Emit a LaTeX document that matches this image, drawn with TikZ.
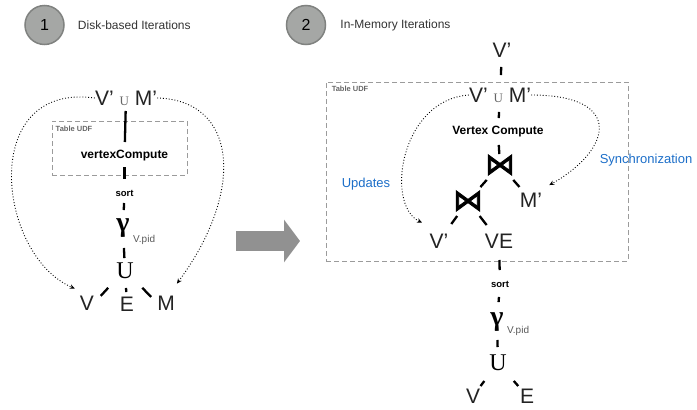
\documentclass[tikz,border=0pt]{standalone}
\usepackage{fontspec}
\setmainfont{Liberation Sans}
\newfontfamily\serifgl{Liberation Serif}
\newfontfamily\joinfont[FakeBold=2.5]{DejaVu Sans}
\usetikzlibrary{positioning, arrows.meta}
\definecolor{stepfill}{RGB}{165,167,165}
\definecolor{stepline}{RGB}{128,130,128}
\definecolor{udfgray}{RGB}{155,155,155}
\definecolor{notecolor}{RGB}{28,110,200}
\definecolor{arrowgray}{RGB}{145,145,145}
\definecolor{reltext}{RGB}{35,35,35}

\begin{document}
\begin{tikzpicture}[
    x=1pt, y=-1pt,
    rel/.style={inner sep=0pt, font=\fontsize{21}{21}\selectfont, text=reltext},
    opname/.style={inner sep=0pt, font=\fontsize{12}{12}\selectfont\bfseries},
    sortop/.style={inner sep=0pt, font=\fontsize{9.5}{10}\selectfont\bfseries},
    grp/.style={inner sep=0pt, font=\serifgl\bfseries\fontsize{28}{28}\selectfont},
    uni/.style={inner sep=0pt, font=\serifgl\fontsize{24}{24}\selectfont},
    joinop/.style={inner sep=0pt, font=\joinfont\fontsize{30}{30}\selectfont},
    subtxt/.style={inner sep=0pt, anchor=west, font=\fontsize{10}{10}\selectfont, text=black!65},
    udfbox/.style={draw=udfgray, dash pattern=on 5pt off 3pt, line width=0.9pt, inner sep=0pt},
    udflabel/.style={inner sep=0pt, font=\fontsize{7.5}{8}\selectfont\bfseries, text=black!60},
    note/.style={inner sep=0pt, font=\fontsize{13}{13}\selectfont, text=notecolor},
    stepnum/.style={circle, draw=stepline, line width=1.5pt, fill=stepfill, minimum size=39pt, inner sep=0pt, font=\fontsize{16}{16}\selectfont},
    steptitle/.style={inner sep=0pt, font=\fontsize{12}{12}\selectfont, text=black!80},
    link/.style={line width=2.3pt},
    flow/.style={dotted, line width=0.9pt, -{Stealth[length=5pt, width=4.5pt]}},
    bigarrow/.style={draw=arrowgray, line width=20pt, -{Triangle[length=16pt, width=42pt]}},
]
\useasboundingbox (0,0) rectangle (697,410);

% ---- headers ----
\node[stepnum] (step1) at (44.5,25) {1};
\node[steptitle, right=13pt of step1] (title1) {Disk-based Iterations};
\node[stepnum] (step2) at (306,25) {2};
\node[steptitle, right=14pt of step2] (title2) {In-Memory Iterations};

% ---- disk-based plan ----
\node[udfbox, minimum width=135pt, minimum height=54pt] (udf1) at (119.5,148) {};
\node[udflabel, below right=5pt and 4pt of udf1.north west] {Table UDF};

\node[rel] (vm1) at (126,98) {V’ {\serifgl\fontsize{13}{13}\selectfont\color{black!60}U} M’};
\node[opname] (vc1) at (124.5,156) {vertexCompute};
\node[sortop] (sort1) at (124.5,193) {sort};
\node[grp] (g1) at (123,228) {γ};
\node[subtxt] at (133,240) {V.pid};
\node[uni] (u1) at (125,271) {U};
\node[rel] (v1) at (87,303) {V};
\node[rel] (e1) at (127,304) {E};
\node[rel] (m1) at (166,303) {M};

\draw[link, shorten <=13pt, shorten >=14pt] (vm1.center) -- (vc1.center);
\draw[link, shorten <=11pt, shorten >=14pt] (vc1.center) -- (sort1.center);
\draw[link, shorten <=10pt, shorten >=18pt] (sort1.center) -- (g1.center);
\draw[link, shorten <=20pt, shorten >=13pt] (g1.center) -- (u1.center);
\draw[link, shorten <=11.7pt, shorten >=9.7pt] (u1.south west) -- (v1.east);
\draw[link, shorten <=17pt, shorten >=12pt] (u1.center) -- (e1.center);
\draw[link, shorten <=12pt, shorten >=8.5pt] (u1.south east) -- (m1.west);

\draw[flow] (vm1.west) .. controls (-22,82) and (-3,255) .. ([xshift=-5pt, yshift=7pt]v1.north west);
\draw[flow] (vm1.east) .. controls (237,100) and (246,190) .. ([xshift=2pt, yshift=12pt]m1.north east);

% ---- arrow between plans ----
\coordinate (arrowstart) at (236,241);
\coordinate (arrowend) at (300,241);
\draw[bigarrow] (arrowstart) -- (arrowend);

% ---- in-memory plan ----
\node[udfbox, minimum width=302pt, minimum height=179pt] (udf2) at (477,171.5) {};
\node[udflabel, below right=4pt and 6pt of udf2.north west] {Table UDF};

\node[rel] (vtop) at (502,50) {V’};
\node[rel] (vm2) at (500,95) {V’ {\serifgl\fontsize{13}{13}\selectfont\color{black!60}U} M’};
\node[opname] (vc2) at (498,132) {Vertex Compute};
\node[joinop] (j1) at (500,165) {⋈};
\node[joinop] (j2) at (468,201) {⋈};
\node[rel] (m2) at (531,200) {M’};
\node[rel] (v2) at (439,241) {V’};
\node[rel] (ve2) at (499,241) {VE};
\node[note] (upd) at (366,184) {Updates};
\node[note] (sync) at (646,160) {Synchronization};

\node[sortop] (sort2) at (500,284) {sort};
\node[grp] (g2) at (497,322) {γ};
\node[subtxt] at (507,331) {V.pid};
\node[uni] (u2) at (498,363) {U};
\node[rel] (v3) at (473,396) {V};
\node[rel] (e3) at (527,396) {E};

\draw[link, shorten <=17pt, shorten >=20pt] (vtop.center) -- (vm2.center);
\draw[link, shorten <=17pt, shorten >=14pt] (vm2.center) -- (vc2.center);
\draw[link, shorten <=13pt, shorten >=11pt] (vc2.center) -- (j1.center);
\draw[link, shorten <=20pt, shorten >=18.7pt] (j1.center) -- (j2.center);
\draw[link, shorten <=20pt, shorten >=17.4pt] (j1.center) -- (m2.center);
\draw[link, shorten <=18.5pt, shorten >=21pt] (j2.center) -- (v2.center);
\draw[link, shorten <=19pt, shorten >=20.2pt] (j2.center) -- (ve2.center);
\draw[link, shorten <=19pt, shorten >=14pt] (ve2.center) -- (sort2.center);
\draw[link, shorten <=13pt, shorten >=20pt] (sort2.center) -- (g2.center);
\draw[link, shorten <=18pt, shorten >=16pt] (g2.center) -- (u2.center);
\draw[link, shorten <=22.6pt, shorten >=12.5pt] (u2.center) -- (v3.center);
\draw[link, shorten <=23.9pt, shorten >=13.3pt] (u2.center) -- (e3.center);

\draw[flow] (vm2.west) .. controls (400,100) and (385,205) .. ([xshift=-17pt, yshift=11pt]v2.north);
\draw[flow] (vm2.east) .. controls (625,95) and (612,150) .. ([xshift=7pt, yshift=7.5pt]m2.north east);

\end{tikzpicture}
\end{document}
